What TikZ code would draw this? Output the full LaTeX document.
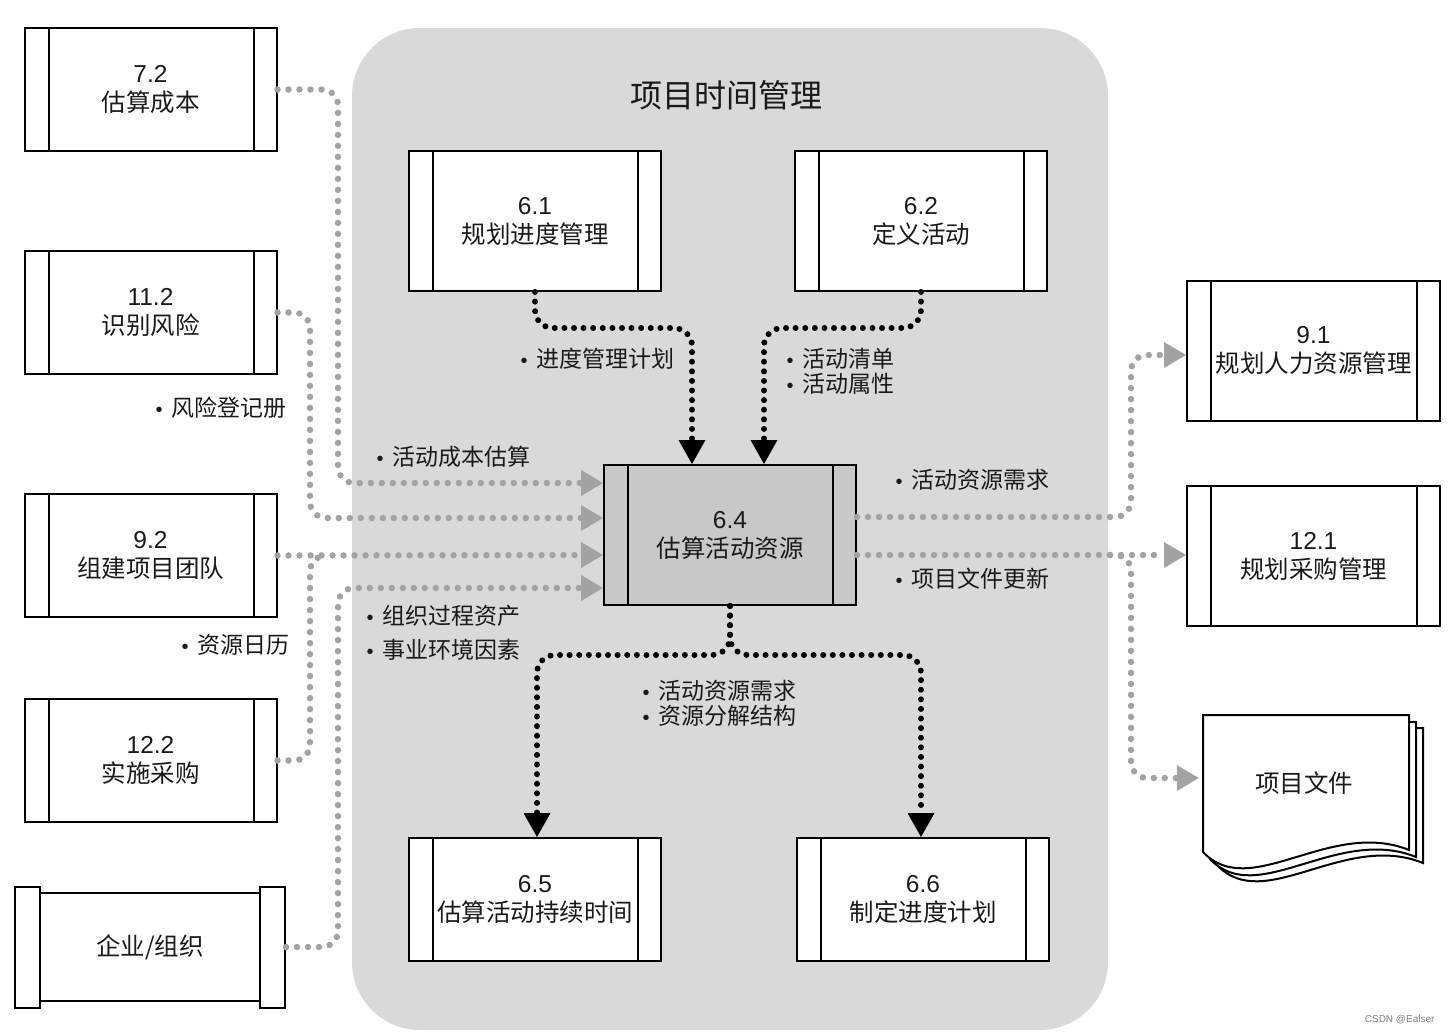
\documentclass[tikz,border=0pt]{standalone}
\usepackage{fontspec}
\setmainfont{Noto Sans CJK SC}
\newfontfamily\latinfont{Liberation Sans}
\usetikzlibrary{arrows.meta,calc}
\definecolor{bgpanel}{HTML}{D9D9D9}
\definecolor{centerfill}{HTML}{C8C8C8}
\definecolor{dotgray}{HTML}{A3A3A3}
\definecolor{txt}{HTML}{1A1A1A}
\newcommand\mybul{{\fontsize{20}{20}\selectfont\latinfont •}\hspace{9pt}}
\tikzset{
  procbox/.style={draw=black, line width=2pt, fill=white, minimum width=252pt,
    minimum height=123pt, inner sep=0pt, align=center, text=txt,
    font=\fontsize{24.5}{29}\selectfont,
    path picture={\draw[line width=2pt]
      ([xshift=24pt]path picture bounding box.north west) -- ([xshift=24pt]path picture bounding box.south west)
      ([xshift=-23pt]path picture bounding box.north east) -- ([xshift=-23pt]path picture bounding box.south east);}},
  tallbox/.style={procbox, minimum height=140pt},
  graydots/.style={draw=dotgray, line width=6.5pt, line cap=round, dash pattern=on 0pt off 11pt, rounded corners=16pt},
  garrow/.style={-{Triangle[length=22pt,width=26pt,line width=0pt]}},
  blackdots/.style={draw=black, line width=6pt, line cap=round, dash pattern=on 0pt off 9.6pt, rounded corners=18pt,
    -{Triangle[length=24pt,width=27pt,line width=0pt]}},
  lbl/.style={anchor=west, inner sep=0pt, align=left, text=txt, font=\fontsize{23}{25}\selectfont},
}
\begin{document}
\begin{tikzpicture}[x=1pt,y=-1pt]
\useasboundingbox (0,0) rectangle (1452,1034);
\fill[white] (0,0) rectangle (1452,1034);
% panel
\fill[bgpanel, rounded corners=68pt] (352,28) rectangle (1108,1030);
\node[font=\fontsize{32}{36}\selectfont, text=txt] (title) at (726,95) {项目时间管理};

% left boxes
\node[procbox] (n72)  at (150.5,89.5)  {{\latinfont 7.2}\\估算成本};
\node[procbox] (n112) at (150.5,312.5) {{\latinfont 11.2}\\识别风险};
\node[procbox] (n92)  at (150.5,555.5) {{\latinfont 9.2}\\组建项目团队};
\node[procbox] (n122) at (150.5,760.5) {{\latinfont 12.2}\\实施采购};
% enterprise
\node[draw=black, line width=2pt, fill=white, minimum width=270pt, minimum height=108pt, inner sep=0pt,
      text=txt, font=\fontsize{24.5}{29}\selectfont] (ent) at (150,947) {企业/组织};
\draw[line width=2pt, fill=white] (15,887) rectangle (40,1008);
\draw[line width=2pt, fill=white] (260,887) rectangle (285,1008);

% center boxes
\node[tallbox] (n61) at (535,221) {{\latinfont 6.1}\\规划进度管理};
\node[tallbox] (n62) at (921,221) {{\latinfont 6.2}\\定义活动};
\node[tallbox, fill=centerfill] (n64) at (730,535) {{\latinfont 6.4}\\估算活动资源};
\node[procbox] (n65) at (535,899.5) {{\latinfont 6.5}\\估算活动持续时间};
\node[procbox] (n66) at (923,899.5) {{\latinfont 6.6}\\制定进度计划};

% right boxes
\node[tallbox, minimum width=253pt] (n91)  at (1313.5,350.5) {{\latinfont 9.1}\\规划人力资源管理};
\node[tallbox, minimum width=253pt] (n121) at (1313.5,556) {{\latinfont 12.1}\\规划采购管理};

% document stack
\foreach \sx/\sy in {14/13, 7/7, 0/0}{
  \filldraw[draw=black, fill=white, line width=2pt, shift={(\sx,\sy)}]
    (1203,715) -- (1409,715) -- (1409,850) .. controls (1330,818) and (1250,902) .. (1203,852) -- cycle;
}
\node[minimum width=206pt, minimum height=135pt, inner sep=0pt, text=txt,
      font=\fontsize{24.5}{29}\selectfont] (doc) at (1304,783) {项目文件};

% coordinates on 6.4
\coordinate (in1) at ($(n64.west)+(0,-52)$);
\coordinate (in2) at ($(n64.west)+(0,-17)$);
\coordinate (in3) at ($(n64.west)+(0,20)$);
\coordinate (in4) at ($(n64.west)+(0,53)$);
\coordinate (out1) at ($(n64.east)+(0,-18)$);
\coordinate (out2) at ($(n64.east)+(0,20)$);
\coordinate (merge) at (326,555.5);
\coordinate (branch) at ($(out2)+(253,0)$);

% gray input connectors
\draw[graydots, garrow] (n72.east) -- (338,89.5) -- (338,483) -- (in1);
\draw[graydots, garrow] (n112.east) -- (310,312.5) -- (310,518) -- (in2);
\draw[graydots, garrow] (n92.east) -- (in3);
\draw[graydots] (n122.east) -- (310,760.5) -- (310,555.5) -- (merge);
\draw[graydots, garrow] (ent.east) -- (338,947) -- (338,588) -- (in4);

% gray output connectors
\draw[graydots, garrow] (out1) -- (1131,517) -- (1131,355) -- ($(n91.west)+(0,4.5)$);
\draw[graydots, garrow] (out2) -- (n121.west |- out2);
\draw[graydots, garrow] (branch) -- (1131,555) -- (1131,778) -- ($(doc.west)+(-2,-5)$);

% black connectors
\draw[blackdots] (n61.south) -- (535,328) -- (692,328) -- ($(n64.north)+(-38,0)$);
\draw[blackdots] (n62.south) -- (921,328) -- (764,328) -- ($(n64.north)+(34,0)$);
\draw[blackdots] (n64.south) -- (730,655) -- (537,655) -- ($(n65.north)+(2,0)$);
\draw[blackdots] (n64.south) -- (730,655) -- (921,655) -- ($(n66.north)+(-2,0)$);

% labels
\node[lbl] (l1) at (155.5,408) {\mybul 风险登记册};
\node[lbl] (l2) at (376.5,457) {\mybul 活动成本估算};
\node[lbl] (l3) at (181.5,645) {\mybul 资源日历};
\node[lbl, font=\fontsize{23}{34}\selectfont] (l4) at (366.5,633) {\mybul 组织过程资产\\\mybul 事业环境因素};
\node[lbl] (l5) at (520.5,359) {\mybul 进度管理计划};
\node[lbl] (l6) at (786.5,371) {\mybul 活动清单\\\mybul 活动属性};
\node[lbl] (l7) at (895.5,480) {\mybul 活动资源需求};
\node[lbl] (l8) at (895.5,579) {\mybul 项目文件更新};
\node[lbl] (l9) at (642.5,703) {\mybul 活动资源需求\\\mybul 资源分解结构};

\node[font=\latinfont\fontsize{10}{12}\selectfont, text=gray, anchor=east] (wm) at (1438,1020) {CSDN @Ealser};
\end{tikzpicture}
\end{document}
